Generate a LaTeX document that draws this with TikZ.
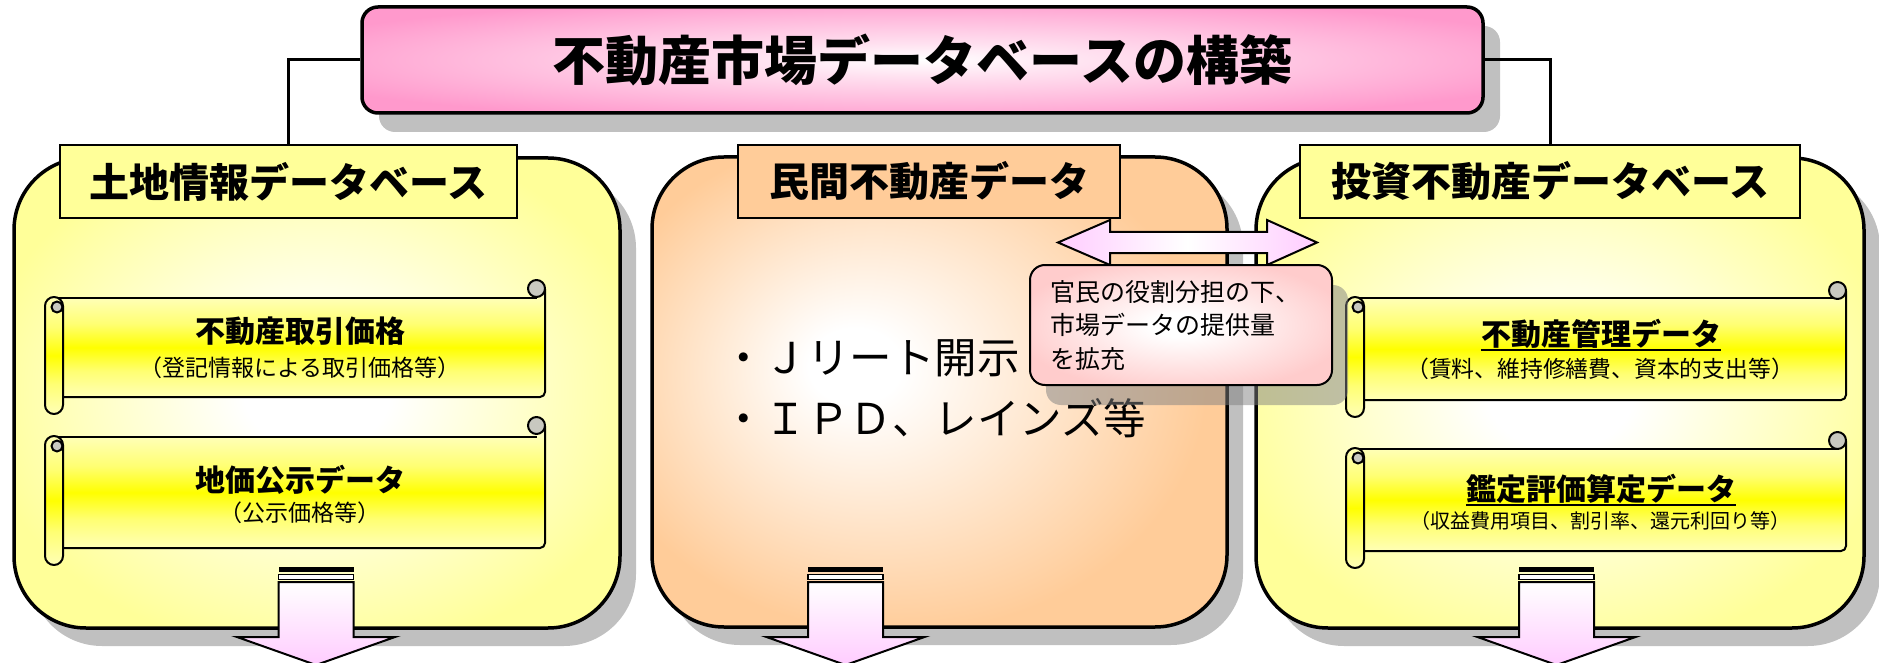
\documentclass[tikz,border=0pt]{standalone}
\usepackage{fontspec}
\setmainfont{Noto Sans CJK JP}
\usetikzlibrary{shadows,calc}
\definecolor{boxyellow}{HTML}{FFFF99}
\definecolor{boxorange}{HTML}{FFCC99}
\definecolor{titlepink}{HTML}{FF99CC}
\definecolor{callpink}{HTML}{FFCCCC}
\definecolor{arrowpink}{HTML}{FFCCFF}
\definecolor{shadowgray}{HTML}{C0C0C0}
\definecolor{scrollyellow}{HTML}{FFFF00}
\definecolor{curlgray}{HTML}{C8C8C0}
\pgfdeclareradialshading{glowyellow}{\pgfpointorigin}{color(0bp)=(white); color(6bp)=(white); color(28bp)=(boxyellow); color(50bp)=(boxyellow)}
\pgfdeclareradialshading{gloworange}{\pgfpoint{-8bp}{3bp}}{color(0bp)=(white); color(4bp)=(white); color(27bp)=(boxorange); color(50bp)=(boxorange)}
\pgfdeclareradialshading{glowpink}{\pgfpointorigin}{color(0bp)=(white); color(8bp)=(white!70!titlepink); color(30bp)=(titlepink); color(50bp)=(titlepink)}
\pgfdeclareradialshading{glowcall}{\pgfpointorigin}{color(0bp)=(white); color(5bp)=(white); color(28bp)=(callpink); color(50bp)=(callpink)}
\pgfdeclareverticalshading{scrollsh}{100bp}{color(0bp)=(white); color(15bp)=(white!92!scrollyellow); color(38bp)=(white!45!scrollyellow); color(50bp)=(scrollyellow); color(62bp)=(white!45!scrollyellow); color(85bp)=(white!92!scrollyellow); color(100bp)=(white)}
\tikzset{
  bigbox/.style={draw, line width=3.5pt, rounded corners=72pt, shade, minimum height=470pt,
    drop shadow={shadow xshift=16pt, shadow yshift=-18pt, fill=shadowgray, opacity=1}},
  labelbox/.style={draw, line width=2pt, minimum height=73pt, inner sep=0pt,
    font=\fontsize{40pt}{48pt}\selectfont\bfseries},
  conn/.style={line width=3pt},
  scrolline/.style={line width=2pt, line join=round},
  scrolltitle/.style={inner sep=0pt, font=\fontsize{30pt}{36pt}\selectfont\bfseries},
  scrollsub/.style={inner sep=0pt, font=\fontsize{23pt}{27pt}\selectfont},
  listtext/.style={inner sep=0pt, anchor=west, font=\fontsize{42.5pt}{50pt}\selectfont},
  notebox/.style={draw, line width=2pt, rounded corners=15pt, shade, shading=glowcall,
    minimum width=302pt, minimum height=120pt, text width=262pt, inner xsep=20pt, align=left,
    font=\fontsize{25pt}{33.5pt}\selectfont,
    drop shadow={shadow xshift=16pt, shadow yshift=-20pt, fill=black!50, opacity=.5}},
  blockarrow/.style={line width=2pt, line join=miter}
}
\newcommand{\drawscroll}[5]{%
  \path[shading=scrollsh, shade, rounded corners=5pt] ({#1+9},#3) -- ({#2},#3) -- ({#2},#4) -- ({#1+9},#4) -- cycle;
  \draw[scrolline] ({#1+9},#3) -- ({#2-8},#3);
  \draw[scrolline, rounded corners=5pt] ({#2},{#5+9}) -- ({#2},#4) -- ({#1+18},#4);
  \draw[scrolline, shading=scrollsh, shade, rounded corners=9pt] (#1,{#3-1}) rectangle ({#1+18},{#4+17});
  \draw[scrolline, fill=curlgray] ({#1+12},{#3+9}) circle (5.5);
  \draw[scrolline, fill=curlgray] ({#2-8.5},{#5+8.5}) circle (8.5);
}
\newcommand{\downblock}[1]{%
  \fill[black] ({#1-37.5},567) rectangle ({#1+37.5},572);
  \draw[line width=1.5pt, fill=white] ({#1-37.5},574.5) rectangle ({#1+37.5},579.5);
  \draw[blockarrow, top color=white, bottom color=arrowpink] ({#1-37.5},582) -- ({#1+37.5},582) -- ({#1+37.5},637) -- ({#1+79},637) -- (#1,665) -- ({#1-79},637) -- ({#1-37.5},637) -- cycle;
}
\begin{document}
\begin{tikzpicture}[x=1pt,y=-1pt]
\useasboundingbox (0,0) rectangle (1879,663);

% title
\node[draw, line width=3.5pt, rounded corners=16pt, shade, shading=glowpink,
  minimum width=1121pt, minimum height=106pt, inner sep=0pt,
  font=\fontsize{53pt}{60pt}\selectfont\bfseries,
  drop shadow={shadow xshift=17pt, shadow yshift=-19pt, fill=shadowgray, opacity=1}]
  (title) at (922.5,60) {不動産市場データベースの構築};

% big boxes
\node[bigbox, shading=glowyellow, minimum width=606pt] (big1) at (317,393) {};
\node[bigbox, shading=gloworange, minimum width=575pt] (big2) at (939.5,392) {};
\node[bigbox, shading=glowyellow, minimum width=608pt] (big3) at (1560,393) {};

% label boxes
\node[labelbox, fill=boxyellow, minimum width=457pt] (lab1) at (288.5,181.5) {土地情報データベース};
\node[labelbox, fill=boxorange, minimum width=382pt] (lab2) at (929,181.5) {民間不動産データ};
\node[labelbox, fill=boxyellow, minimum width=500pt] (lab3) at (1550,181.5) {投資不動産データベース};

% connectors
\draw[conn] (title.west) -| (lab1.north);
\draw[conn] (title.east) -| (lab3.north);

% scrolls
\drawscroll{45}{545}{298}{397}{280}
\drawscroll{45}{545}{437}{548}{417}
\drawscroll{1346}{1846}{298}{400}{282}
\drawscroll{1346}{1846}{449}{551}{432}

\node[scrolltitle] (s1t) at (300,331) {不動産取引価格};
\node[scrollsub] (s1s) at (300,368) {（登記情報による取引価格等）};
\node[scrolltitle] (s2t) at (300,480) {地価公示データ};
\node[scrollsub] (s2s) at (300,513) {（公示価格等）};
\node[scrolltitle] (s3t) at (1601,334) {不動産管理データ};
\node[scrollsub, font=\fontsize{22.8pt}{27pt}\selectfont] (s3s) at (1600,369) {（賃料、維持修繕費、資本的支出等）};
\node[scrolltitle] (s4t) at (1601,489) {鑑定評価算定データ};
\node[scrollsub, font=\fontsize{20pt}{24pt}\selectfont] (s4s) at (1600,521) {（収益費用項目、割引率、還元利回り等）};
\draw[line width=2pt] ([yshift=-1pt]s3t.south west) -- ([yshift=-1pt]s3t.south east);
\draw[line width=2pt] ([yshift=-1pt]s4t.south west) -- ([yshift=-1pt]s4t.south east);

% middle list
\node[listtext] (m1) at (722,358) {・Ｊリート開示};
\node[listtext] (m2) at (722,418) {・ＩＰＤ、レインズ等};

% double arrow
\draw[blockarrow, left color=arrowpink, right color=arrowpink, middle color=white]
  (1058,242.5) -- (1110,220) -- (1110,232) -- (1267,232) -- (1267,220) -- (1317,242.5)
  -- (1267,265) -- (1267,253) -- (1110,253) -- (1110,265) -- cycle;

% down arrows
\downblock{316}
\downblock{845.5}
\downblock{1556.5}

% callout
\node[notebox] (note) at (1181,325) {官民の役割分担の下、\\市場データの提供量\\を拡充};
\end{tikzpicture}
\end{document}
